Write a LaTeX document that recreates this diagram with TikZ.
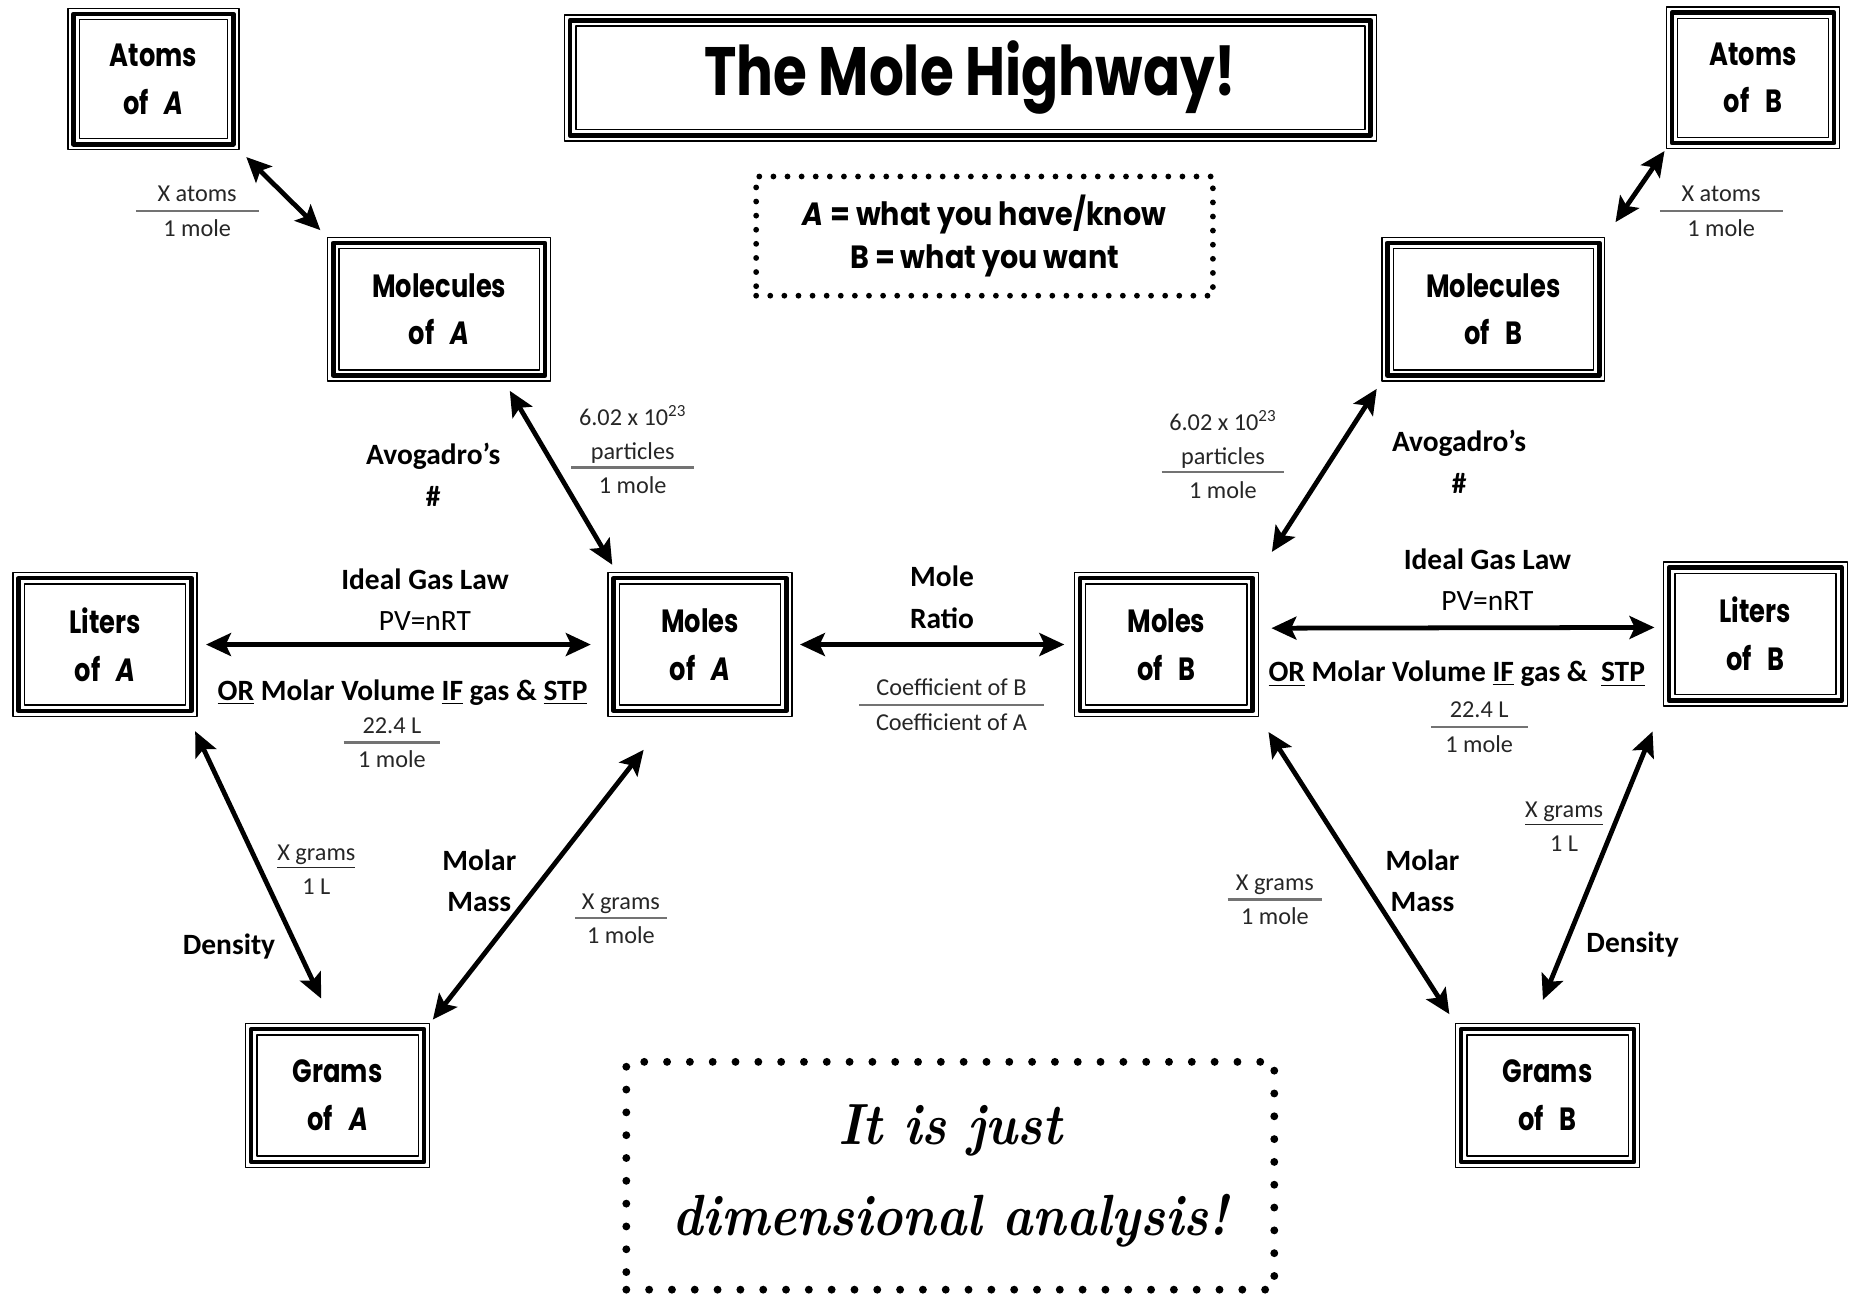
\documentclass[tikz,border=0pt]{standalone}
\usepackage{fontspec}
\setmainfont{Carlito}
\newfontfamily\comic[FakeStretch=0.89]{Poppins}
\newfontfamily\comicnarrow[FakeStretch=0.8]{Poppins}
\newfontfamily\script[Extension=.otf,FakeStretch=0.88]{lmroman10-bolditalic}
\usetikzlibrary{arrows.meta,calc}
\newcommand\fbar[3]{\draw[bar] ($(#1)+(-#2,#3)$) -- ($(#1)+(#2,#3)$);}

\begin{document}
\begin{tikzpicture}[x=0.02cm,y=-0.02cm,line join=round,>={Stealth[length=12pt,width=11pt,inset=2.5pt]},font=\fontsize{11.7}{16.5}\selectfont]
	\tikzset{every node/.style={inner sep=0pt,outer sep=0pt,align=center},
		box/.style={minimum width=3.14cm,minimum height=2.46cm,font=\comicnarrow\bfseries\fontsize{15.5}{23}\selectfont},
		lab/.style={font=\bfseries\fontsize{14.2}{20}\selectfont},
		small/.style={font=\fontsize{11.7}{16.5}\selectfont,text=black!85},
		bar/.style={draw=black!55,line width=1pt},
		dbl/.style={<->,line width=2.3pt},
		dots/.style={draw,line cap=round,dash pattern=on 0pt off 6.8pt,line width=2.8pt}}
	\useasboundingbox (0,0) rectangle (1568,1097);
	\node[box,minimum width=13.78cm,minimum height=2.16cm,font=\comicnarrow\bfseries\fontsize{33}{36}\selectfont] (title) at (822,66) {The Mole Highway!};
	\node[box,minimum width=2.92cm,minimum height=2.42cm] (atomsA) at (130,67) {Atoms\\of\enspace\textit{A}};
	\node[box,minimum width=3.8cm] (molA) at (372,262) {Molecules\\of\enspace\textit{A}};
	\node[box] (litA) at (89,546) {Liters\\of\enspace\textit{A}};
	\node[box] (molesA) at (593,546) {Moles\\of\enspace\textit{A}};
	\node[box] (gramsA) at (286,928) {Grams\\of\enspace\textit{A}};
	\node[box,minimum width=2.96cm,minimum height=2.42cm] (atomsB) at (1485,66) {Atoms\\of\enspace B};
	\node[box,minimum width=3.8cm] (molB) at (1265,262) {Molecules\\of\enspace B};
	\node[box] (litB) at (1487,537) {Liters\\of\enspace B};
	\node[box] (molesB) at (988,546) {Moles\\of\enspace B};
	\node[box] (gramsB) at (1311,928) {Grams\\of\enspace B};
	\foreach \n in {title,atomsA,molA,litA,molesA,gramsA,atomsB,molB,litB,molesB,gramsB}{
		\draw[line width=0.7pt] ([shift={(0.35pt,-0.35pt)}]\n.north west) rectangle ([shift={(-0.35pt,0.35pt)}]\n.south east);
		\draw[line width=2.2pt] ([shift={(3pt,-3pt)}]\n.north west) rectangle ([shift={(-3pt,3pt)}]\n.south east);
		\draw[line width=0.7pt] ([shift={(5.8pt,-5.8pt)}]\n.north west) rectangle ([shift={(-5.8pt,5.8pt)}]\n.south east);
	}
	\node[dots,minimum width=7.74cm,minimum height=2.02cm,font=\comic\bfseries\fontsize{15.5}{21}\selectfont] (key) at (834,200) {{\itshape A} = what you have/know\\B = what you want};
	\node[dots,line width=3.8pt,dash pattern=on 0pt off 11pt,minimum width=10.98cm,minimum height=3.86cm,font=\script\fontsize{28}{44}\selectfont] (moral) at (805,996) {It is just\\dimensional analysis!};
	\node[small] (xatA) at (167,179) {X atoms\\1 mole}; \fbar{xatA}{52}{0}
	\node[small] (xatB) at (1458,179) {X atoms\\1 mole}; \fbar{xatB}{52}{0}
	\node[lab] (avoA) at (367,402) {Avogadro’s\\\#};
	\node[lab] (avoB) at (1236,391) {Avogadro’s\\\#};
	\node[small] (partA) at (536,381) {6.02 x 10\textsuperscript{23}\\particles\\1 mole}; \fbar{partA}{52}{15}
	\node[small] (partB) at (1036,385) {6.02 x 10\textsuperscript{23}\\particles\\1 mole}; \fbar{partB}{52}{15}
	\node[lab] (gasA) at (360,508) {Ideal Gas Law\\{\mdseries PV=nRT}};
	\node[lab] (gasB) at (1260,491) {Ideal Gas Law\\{\mdseries PV=nRT}};
	\node[lab] (stpA) at (341,587) {\underline{OR} Molar Volume \underline{IF} gas \& \underline{STP}};
	\node[lab] (stpB) at (1234,571) {\underline{OR} Molar Volume \underline{IF} gas \&\ \ \underline{STP}};
	\node[small] (volA) at (332,629) {22.4 L\\1 mole}; \fbar{volA}{41}{0}
	\node[small] (volB) at (1253,616) {22.4 L\\1 mole}; \fbar{volB}{41}{0}
	\node[small] (perlA) at (268,737) {\underline{X grams}\\1 L};
	\node[small] (perlB) at (1325,700) {\underline{X grams}\\1 L};
	\node[lab] (densA) at (194,802) {Density};
	\node[lab] (densB) at (1383,800) {Density};
	\node[lab] (massA) at (406,746) {Molar\\Mass};
	\node[lab] (massB) at (1205,746) {Molar\\Mass};
	\node[small] (gpmA) at (526,778) {X grams\\1 mole}; \fbar{gpmA}{39}{0}
	\node[small] (gpmB) at (1080,762) {X grams\\1 mole}; \fbar{gpmB}{40}{0}
	\node[lab] (ratio) at (798,506) {Mole\\Ratio};
	\node[small] (coef) at (806,597) {Coefficient of B\\Coefficient of A}; \fbar{coef}{78}{0}
	\draw[dbl,shorten <=4.5pt,shorten >=4.5pt] (atomsA.south east) -- (molA.north west);
	\draw[dbl,shorten <=5pt,shorten >=4pt] (molA.-48) -- (molesA.139);
	\draw[dbl,shorten <=4pt,shorten >=8pt] (litA.east) -- (molesA.west);
	\draw[dbl,shorten <=3.5pt,shorten >=4.5pt] (molesA.east) -- (molesB.west);
	\draw[dbl,shorten <=6pt,shorten >=4pt] (molesB.10) -- (litB.176);
	\draw[dbl,shorten <=7.5pt,shorten >=13pt] (litA.-41.5) -- (gramsA.94);
	\draw[dbl,shorten <=20pt,shorten >=2pt] (molesA.-113) -- (gramsA.north east);
	\draw[dbl,shorten <=11.5pt,shorten >=4pt] (molesB.north east) -- (molB.south west);
	\draw[dbl,shorten <=8.5pt,shorten >=1pt] (molB.north east) -- (atomsB.south west);
	\draw[dbl,shorten <=8.5pt,shorten >=5pt] (molesB.south east) -- (gramsB.north west);
	\draw[dbl,shorten <=13pt,shorten >=12pt] (litB.south west) -- (gramsB.101);
\end{tikzpicture}
\end{document}
